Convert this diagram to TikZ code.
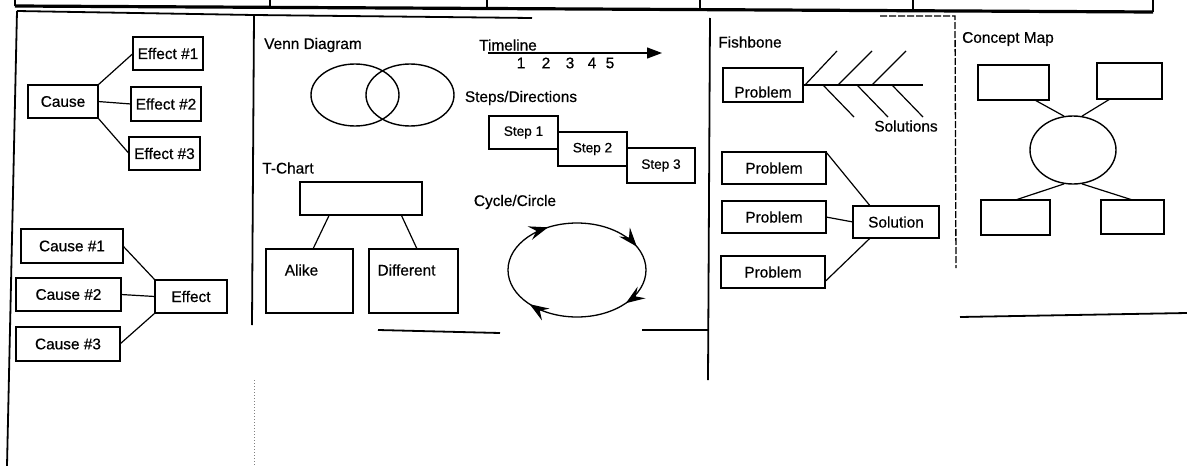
\documentclass[tikz,border=0pt]{standalone}
\usepackage{fontspec}
\setmainfont{Liberation Sans}[FakeBold=0.6,AutoFakeBold=0.6]
\usetikzlibrary{shapes.geometric,arrows.meta,decorations.markings,calc}
\begin{document}
\begin{tikzpicture}[x=1pt,y=-1pt,
  box/.style={draw, line width=1.3pt, inner sep=0pt, outer sep=0pt},
  txt/.style={inner sep=0pt, font=\fontsize{15.4}{17}\selectfont\bfseries},
  sm/.style={inner sep=0pt, font=\fontsize{13.6}{15}\selectfont\bfseries},
  con/.style={line width=1.2pt},
  panel/.style={line width=1.8pt},
  cyc/.style={line width=1.3pt, postaction=decorate, decoration={markings,
    mark=at position 0.11 with {\arrow{Stealth[length=19pt,width=14pt,inset=7pt]}},
    mark=at position 0.385 with {\arrow{Stealth[length=19pt,width=14pt,inset=7pt]}},
    mark=at position 0.67 with {\arrow{Stealth[length=19pt,width=14pt,inset=7pt]}},
    mark=at position 0.93 with {\arrow{Stealth[length=19pt,width=14pt,inset=7pt]}}}},
]
\useasboundingbox (0,0) rectangle (1187,466);

% ---------- frame / panel lines ----------
\draw[line width=3.2pt] (15,6) -- (1153,12);
\foreach \x in {270,487,700,913} \draw[line width=2.4pt] (\x,0) -- (\x,9);
\draw[line width=2.4pt] (1153,0) -- (1153,12);
\draw[line width=1.6pt] (15,0) -- (15,6);
\draw[panel] (17,11) -- (254,15) -- (532,18);
\draw[panel] (17,11) -- (7,466);
\draw[panel] (254,15) -- (252,325);
\draw[line width=1pt, gray, dotted] (254,380) -- (254,466);
\draw[panel] (710,18) -- (708,380);
\draw[panel] (378,330) -- (500,333);
\draw[panel] (642,330) -- (708,330);
\draw[line width=1.3pt, dash pattern=on 7pt off 2pt] (880,16) -- (955,16) -- (956,268);
\draw[panel] (960,317) -- (1187,313);

% ---------- cause / effect ----------
\node[box,txt,minimum width=70pt,minimum height=33pt] (cause) at (63,101.5) {Cause};
\node[box,txt,minimum width=70pt,minimum height=33pt] (e1) at (168,53.5) {Effect \#1};
\node[box,txt,minimum width=70pt,minimum height=34pt] (e2) at (166,104) {Effect \#2};
\node[box,txt,minimum width=71pt,minimum height=33pt] (e3) at (164.5,153.5) {Effect \#3};
\draw[con] (cause.north east) -- (e1.west);
\draw[con] (cause.east) -- (e2.west);
\draw[con] (cause.south east) -- (e3.west);

\node[box,txt,minimum width=102pt,minimum height=34pt] (c1) at (72,246) {Cause \#1};
\node[box,txt,minimum width=105pt,minimum height=33pt] (c2) at (68.5,294.5) {Cause \#2};
\node[box,txt,minimum width=104pt,minimum height=34pt] (c3) at (68,344) {Cause \#3};
\node[box,txt,minimum width=72pt,minimum height=33pt] (eff) at (191,296.5) {Effect};
\draw[con] (c1.east) -- (eff.north west);
\draw[con] (c2.east) -- (eff.west);
\draw[con] (c3.east) -- (eff.south west);

% ---------- Venn / T-chart ----------
\node[txt] (venn) at (313,45) {Venn Diagram};
\node[ellipse,draw,line width=1.4pt,minimum width=88pt,minimum height=62pt,inner sep=0pt] (va) at (355,95) {};
\node[ellipse,draw,line width=1.4pt,minimum width=88pt,minimum height=62pt,inner sep=0pt] (vb) at (410,95) {};

\node[txt] (tch) at (288,168) {T-Chart};
\node[box,minimum width=122pt,minimum height=33pt] (ttop) at (361,198.5) {};
\node[box,minimum width=87pt,minimum height=64pt] (alike) at (309.5,281) {};
\node[box,minimum width=89pt,minimum height=64pt] (diff) at (413.5,281) {};
\node[txt] (alikeT) at (301.5,270) {Alike};
\node[txt] (diffT) at (406.5,270) {Different};
\draw[con] ($(ttop.south west)!0.24!(ttop.south east)$) -- ($(alike.north west)!0.54!(alike.north east)$);
\draw[con] ($(ttop.south west)!0.83!(ttop.south east)$) -- ($(diff.north west)!0.54!(diff.north east)$);

% ---------- Timeline / Steps / Cycle ----------
\node[txt] (tline) at (508,45) {Timeline};
\coordinate (tl0) at (488,53);
\coordinate (tl1) at (662,53);
\draw[con,-{Triangle[length=15pt,width=11pt]}] (tl0) -- (tl1);
\node[txt] (n1) at (521,63) {1};
\node[txt] (n2) at (546,63) {2};
\node[txt] (n3) at (570,63) {3};
\node[txt] (n4) at (592,63) {4};
\node[txt] (n5) at (610,63) {5};

\node[txt] (steps) at (521,98) {Steps/Directions};
\node[box,sm,minimum width=69pt,minimum height=33pt] (s1) at (523.5,132.5) {Step 1};
\node[box,sm,minimum width=69pt,minimum height=34pt] (s2) at (592.5,149) {Step 2};
\node[box,sm,minimum width=68pt,minimum height=35pt] (s3) at (661,165.5) {Step 3};

\node[txt] (cycT) at (515,202) {Cycle/Circle};
\draw[cyc] (577,270) ellipse [x radius=69, y radius=47];

% ---------- Fishbone ----------
\node[txt] (fish) at (750,42) {Fishbone};
\node[box,minimum width=80pt,minimum height=34pt,label={[txt,yshift=-7pt]center:Problem}] (pb) at (763,85) {};
\coordinate (sp) at (923,85);
\draw[con] (pb.east) -- (sp);
\coordinate (a1) at (805,85); \coordinate (a1e) at (837,51);
\coordinate (a2) at (838,85); \coordinate (a2e) at (872,51);
\coordinate (a3) at (872,85); \coordinate (a3e) at (906,51);
\coordinate (b1) at (823,85); \coordinate (b1e) at (854,117);
\coordinate (b2) at (857,85); \coordinate (b2e) at (888,117);
\coordinate (b3) at (892,85); \coordinate (b3e) at (923,117);
\draw[con] (a1) -- (a1e); \draw[con] (a2) -- (a2e); \draw[con] (a3) -- (a3e);
\draw[con] (b1) -- (b1e); \draw[con] (b2) -- (b2e); \draw[con] (b3) -- (b3e);
\node[txt] (solsT) at (906,126) {Solutions};

\node[box,txt,minimum width=104pt,minimum height=32pt] (p1) at (774,168) {Problem};
\node[box,txt,minimum width=104pt,minimum height=32pt] (p2) at (774,217) {Problem};
\node[box,txt,minimum width=104pt,minimum height=32pt] (p3) at (773,272) {Problem};
\node[box,txt,minimum width=86pt,minimum height=32pt] (sol) at (896,222) {Solution};
\draw[con] (p1.north east) -- ($(sol.north west)!0.2!(sol.north east)$);
\draw[con] (p2.east) -- (sol.west);
\draw[con] ($(p3.north east)!0.8!(p3.south east)$) -- ($(sol.south west)!0.2!(sol.south east)$);

% ---------- Concept map ----------
\node[txt] (cmap) at (1008,39) {Concept Map};
\node[box,minimum width=71pt,minimum height=35pt] (tl) at (1013.5,82.5) {};
\node[box,minimum width=65pt,minimum height=36pt] (tr) at (1129.5,81) {};
\node[box,minimum width=69pt,minimum height=35pt] (bl) at (1015.5,217.5) {};
\node[box,minimum width=63pt,minimum height=34pt] (br) at (1132.5,217) {};
\node[ellipse,draw,line width=1.4pt,minimum width=86pt,minimum height=68pt,inner sep=0pt] (circ) at (1073,150) {};
\draw[con] ($(tl.south west)!0.8!(tl.south east)$) -- (circ.105);
\draw[con] ($(tr.south west)!0.2!(tr.south east)$) -- (circ.75);
\draw[con] (circ.255) -- (bl.north);
\draw[con] (circ.285) -- (br.north);
\end{tikzpicture}
\end{document}
